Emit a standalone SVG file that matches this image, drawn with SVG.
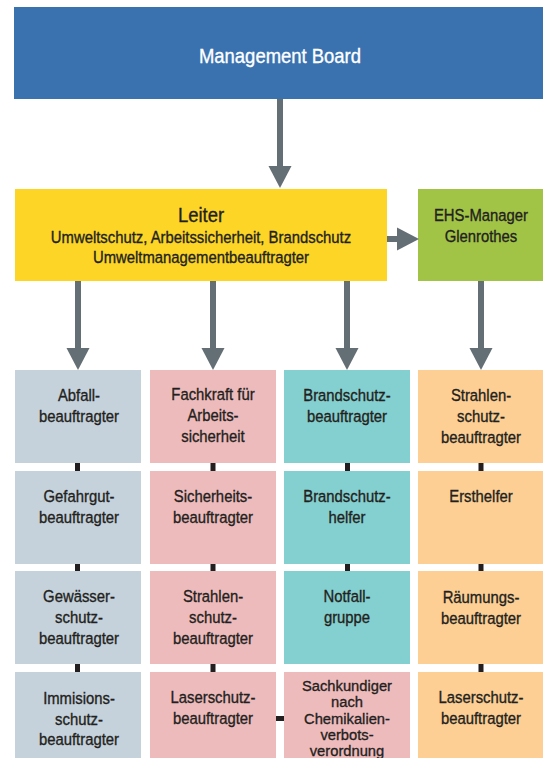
<svg xmlns="http://www.w3.org/2000/svg" width="543" height="758" viewBox="0 0 543 758">
<style>
text{font-family:"Liberation Sans",Arial,sans-serif;font-size:16.5px;fill:#231F20;stroke:#231F20;stroke-width:0.35px;text-anchor:middle}
.big{font-size:20.5px}
.white{fill:#FFFFFF;stroke:#FFFFFF}
.tight{font-size:15.5px}
.arr{stroke:#646E75;stroke-width:6;fill:none}
.link{fill:#231F20}
</style>
<defs>
<marker id="ah" markerUnits="userSpaceOnUse" markerWidth="22" markerHeight="23" refX="0" refY="11.5" orient="auto" overflow="visible">
<path d="M0,0 L22,11.5 L0,23 Z" fill="#646E75"/>
</marker>
</defs>

<g id="management-board">
<rect x="14" y="7" width="529" height="92" fill="#3A72B0"/>
<g transform="matrix(0.9,0,0,1,28,0)"><text class="big white" x="280" y="63">Management Board</text></g>
</g>

<g id="leiter">
<rect x="15" y="189" width="372" height="92" fill="#FCD526"/>
<g transform="matrix(0.9,0,0,1,20.1,0)">
<text class="big" x="201" y="222">Leiter</text>
<text x="201" y="243">Umweltschutz, Arbeitssicherheit, Brandschutz</text>
<text x="201" y="263">Umweltmanagementbeauftragter</text>
</g>
</g>

<g id="ehs-manager">
<rect x="418" y="189" width="125" height="92" fill="#A2C446"/>
<g transform="matrix(0.9,0,0,1,48.1,0)">
<text x="481" y="221">EHS-Manager</text>
<text x="481" y="242">Glenrothes</text>
</g>
</g>

<!-- Column 1 -->
<g id="abfall">
<rect x="15" y="370" width="126" height="93" fill="#C5D2DC"/>
<g transform="matrix(0.9,0,0,1,7.9,0)"><text x="79" y="401">Abfall-</text><text x="79" y="422">beauftragter</text></g>
</g>
<g id="gefahrgut">
<rect x="15" y="471" width="126" height="93" fill="#C5D2DC"/>
<g transform="matrix(0.9,0,0,1,7.9,0)"><text x="79" y="502">Gefahrgut-</text><text x="79" y="523">beauftragter</text></g>
</g>
<g id="gewaesser">
<rect x="15" y="571" width="126" height="93" fill="#C5D2DC"/>
<g transform="matrix(0.9,0,0,1,7.9,0)"><text x="79" y="602">Gewässer-</text><text x="79" y="623">schutz-</text><text x="79" y="644">beauftragter</text></g>
</g>
<g id="immisions">
<rect x="15" y="672" width="126" height="86" fill="#C5D2DC"/>
<g transform="matrix(0.9,0,0,1,7.9,0)"><text x="79" y="704">Immisions-</text><text x="79" y="725">schutz-</text><text x="79" y="745">beauftragter</text></g>
</g>

<!-- Column 2 -->
<g id="fachkraft">
<rect x="150" y="370" width="126" height="93" fill="#EEBBBC"/>
<g transform="matrix(0.9,0,0,1,21.3,0)"><text x="213" y="400">Fachkraft für</text><text x="213" y="421.5">Arbeits-</text><text x="213" y="442.5">sicherheit</text></g>
</g>
<g id="sicherheits">
<rect x="150" y="471" width="126" height="93" fill="#EEBBBC"/>
<g transform="matrix(0.9,0,0,1,21.3,0)"><text x="213" y="502">Sicherheits-</text><text x="213" y="523">beauftragter</text></g>
</g>
<g id="strahlenschutz-1">
<rect x="150" y="571" width="126" height="93" fill="#EEBBBC"/>
<g transform="matrix(0.9,0,0,1,21.3,0)"><text x="213" y="602">Strahlen-</text><text x="213" y="623">schutz-</text><text x="213" y="644">beauftragter</text></g>
</g>
<g id="laserschutz-1">
<rect x="150" y="672" width="126" height="86" fill="#EEBBBC"/>
<g transform="matrix(0.9,0,0,1,21.3,0)"><text x="213" y="703">Laserschutz-</text><text x="213" y="724">beauftragter</text></g>
</g>

<!-- Column 3 -->
<g id="brandschutz-beauftragter">
<rect x="284" y="370" width="126" height="93" fill="#84CFCF"/>
<g transform="matrix(0.9,0,0,1,34.7,0)"><text x="347" y="401">Brandschutz-</text><text x="347" y="422">beauftragter</text></g>
</g>
<g id="brandschutz-helfer">
<rect x="284" y="471" width="126" height="93" fill="#84CFCF"/>
<g transform="matrix(0.9,0,0,1,34.7,0)"><text x="347" y="502">Brandschutz-</text><text x="347" y="523">helfer</text></g>
</g>
<g id="notfall">
<rect x="284" y="571" width="126" height="93" fill="#84CFCF"/>
<g transform="matrix(0.9,0,0,1,34.7,0)"><text x="347" y="602.5">Notfall-</text><text x="347" y="623.5">gruppe</text></g>
</g>
<g id="sachkundiger">
<rect x="284" y="672" width="126" height="86" fill="#EEBBBC"/>
<g transform="matrix(0.95,0,0,1,17.35,0)"><text class="tight" x="347" y="691.5">Sachkundiger</text><text class="tight" x="347" y="707.5">nach</text><text class="tight" x="347" y="724">Chemikalien-</text><text class="tight" x="347" y="740">verbots-</text><text class="tight" x="347" y="756">verordnung</text></g>
</g>

<!-- Column 4 -->
<g id="strahlenschutz-2">
<rect x="418" y="370" width="125" height="93" fill="#FDCF94"/>
<g transform="matrix(0.9,0,0,1,48.1,0)"><text x="481" y="401">Strahlen-</text><text x="481" y="422">schutz-</text><text x="481" y="443">beauftragter</text></g>
</g>
<g id="ersthelfer">
<rect x="418" y="471" width="125" height="93" fill="#FDCF94"/>
<g transform="matrix(0.9,0,0,1,48.1,0)"><text x="481" y="502">Ersthelfer</text></g>
</g>
<g id="raeumungs">
<rect x="418" y="571" width="125" height="93" fill="#FDCF94"/>
<g transform="matrix(0.9,0,0,1,48.1,0)"><text x="481" y="603">Räumungs-</text><text x="481" y="624">beauftragter</text></g>
</g>
<g id="laserschutz-2">
<rect x="418" y="672" width="125" height="86" fill="#FDCF94"/>
<g transform="matrix(0.9,0,0,1,48.1,0)"><text x="481" y="703">Laserschutz-</text><text x="481" y="724">beauftragter</text></g>
</g>

<g id="connectors">
<line class="arr" x1="280" y1="99" x2="280" y2="166" marker-end="url(#ah)"/>
<line class="arr" x1="387" y1="239" x2="397" y2="239" marker-end="url(#ah)"/>
<line class="arr" x1="78" y1="281" x2="78" y2="348" marker-end="url(#ah)"/>
<line class="arr" x1="213" y1="281" x2="213" y2="348" marker-end="url(#ah)"/>
<line class="arr" x1="347" y1="281" x2="347" y2="348" marker-end="url(#ah)"/>
<line class="arr" x1="481" y1="281" x2="481" y2="348" marker-end="url(#ah)"/>
<rect class="link" x="75" y="463" width="5" height="8"/>
<rect class="link" x="75" y="564" width="5" height="7"/>
<rect class="link" x="75" y="664" width="5" height="8"/>
<rect class="link" x="210.5" y="463" width="5" height="8"/>
<rect class="link" x="210.5" y="564" width="5" height="7"/>
<rect class="link" x="210.5" y="664" width="5" height="8"/>
<rect class="link" x="345" y="463" width="5" height="8"/>
<rect class="link" x="345" y="564" width="5" height="7"/>
<rect class="link" x="478.5" y="463" width="5" height="8"/>
<rect class="link" x="478.5" y="564" width="5" height="7"/>
<rect class="link" x="478.5" y="664" width="5" height="8"/>
<rect class="link" x="276" y="716" width="8" height="5"/>
</g>
</svg>
